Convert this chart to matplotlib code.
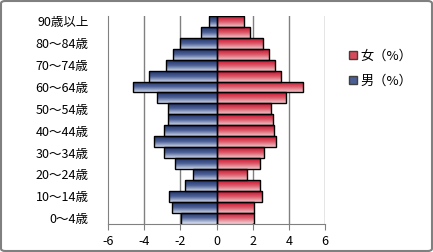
import matplotlib
matplotlib.use('Agg')
import matplotlib.pyplot as plt
import numpy as np
from matplotlib.colors import LinearSegmentedColormap
from matplotlib.patches import Patch, FancyBboxPatch

plt.rcParams['font.family'] = ['Noto Sans CJK JP', 'DejaVu Sans']

# age groups, bottom to top
ages = ['0～4歳', '5～9歳', '10～14歳', '15～19歳', '20～24歳', '25～29歳',
        '30～34歳', '35～39歳', '40～44歳', '45～49歳', '50～54歳', '55～59歳',
        '60～64歳', '65～69歳', '70～74歳', '75～79歳', '80～84歳', '85～89歳',
        '90歳以上']
male = [-1.99, -2.47, -2.63, -1.75, -1.31, -2.30, -2.91, -3.48, -2.91, -2.67,
        -2.69, -3.30, -4.62, -3.74, -2.80, -2.41, -2.03, -0.88, -0.43]
female = [2.08, 2.08, 2.52, 2.41, 1.70, 2.41, 2.63, 3.31, 3.19, 3.13,
          3.04, 3.87, 4.81, 3.57, 3.26, 2.93, 2.57, 1.86, 1.52]
xticks = [-6, -4, -2, 0, 2, 4, 6]

W, H = 433, 252
fig = plt.figure(figsize=(W / 100, H / 100), dpi=100)
ax = fig.add_axes([108 / W, 1 - 223.5 / H, 217 / W, 207.5 / H])

# gradients (top -> bottom)
blue_cm = LinearSegmentedColormap.from_list('b', ['#1e3068', '#4e6398', '#cfd7ea'])
red_cm = LinearSegmentedColormap.from_list('r', ['#c8102e', '#dc5a6a', '#f0c4ca'])
grad = np.linspace(0, 1, 64).reshape(-1, 1)

y = np.arange(len(ages))
for vals, cmap in [(male, blue_cm), (female, red_cm)]:
    bars = ax.barh(y, vals, height=1.0, facecolor='none', edgecolor='black',
                   linewidth=1.0, zorder=3)
    for b in bars:
        x0, y0 = b.get_x(), b.get_y()
        w, h = b.get_width(), b.get_height()
        im = ax.imshow(grad, cmap=cmap, aspect='auto', zorder=2,
                       extent=[x0, x0 + w, y0, y0 + h], origin='upper')
        im.set_clip_path(b)

ax.set_xlim(-6, 6)
ax.set_ylim(-0.5, len(ages) - 0.5)

for xv in xticks[1:]:
    ax.axvline(xv, color='#808080', linewidth=1.0, zorder=1)

ax.set_xticks(xticks)
ax.set_xticklabels([str(v) for v in xticks], fontsize=9)
ax.set_yticks(y[::2])
ax.set_yticklabels(ages[::2], fontsize=9)
ax.tick_params(axis='y', length=0, pad=14)
ax.tick_params(axis='x', length=4, color='#808080', pad=4)

for s in ['top', 'right']:
    ax.spines[s].set_visible(False)
ax.spines['left'].set_color('#808080')
ax.spines['bottom'].set_color('#808080')

handles = [Patch(facecolor='#d84a5a', edgecolor='#404040', label='女（%）'),
           Patch(facecolor='#4a5f94', edgecolor='#404040', label='男（%）')]
fig.legend(handles=handles, loc='upper left', bbox_to_anchor=(337 / W, 1 - 38 / H),
           frameon=False, fontsize=9.5, handlelength=0.6, handleheight=0.6,
           handletextpad=0.3, labelspacing=0.9)

# outer frame
fig.patches.append(FancyBboxPatch((1 / W, 1 / H), 1 - 2 / W, 1 - 2 / H,
                                  boxstyle='round,pad=0,rounding_size=0.01',
                                  transform=fig.transFigure, facecolor='none',
                                  edgecolor='#808080', linewidth=1.5))

fig.savefig('out.png', dpi=100)
